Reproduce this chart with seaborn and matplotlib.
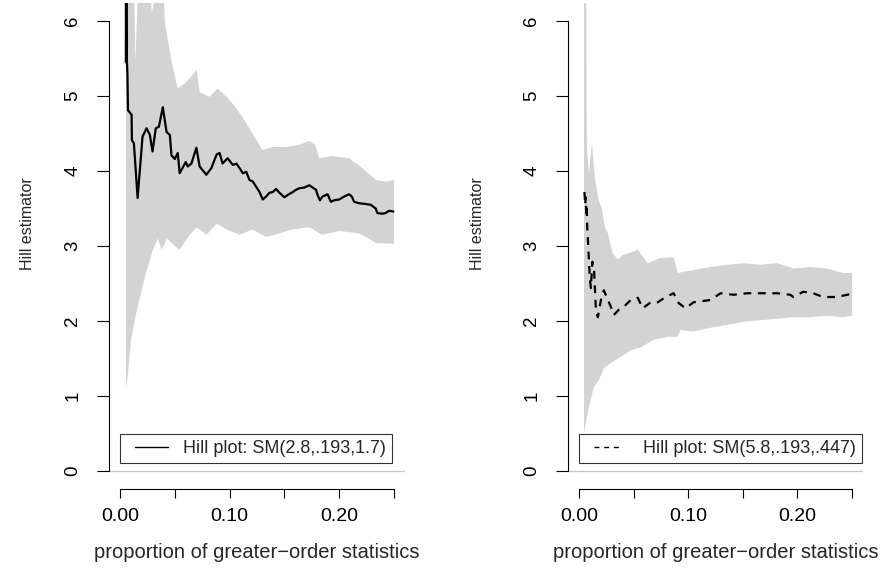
import numpy as np
import pandas as pd
import matplotlib
matplotlib.use("Agg")
import matplotlib.pyplot as plt
import seaborn as sns
from matplotlib.lines import Line2D
from matplotlib.legend_handler import HandlerLine2D

# ---- left panel: SM(2.8,.193,1.7) ----
left_prop = [0.0052, 0.0055, 0.0058, 0.0062, 0.0068, 0.0073, 0.0106, 0.0109, 0.0127, 0.0161,
             0.0206, 0.0243, 0.0273, 0.0297, 0.0327, 0.0355, 0.0391, 0.0425, 0.0455, 0.0470,
             0.0500, 0.0527, 0.0545, 0.0600, 0.0618, 0.0652, 0.0697, 0.0727, 0.0788, 0.0834,
             0.0882, 0.0909, 0.0936, 0.0982, 0.1030, 0.1061, 0.1091, 0.1121, 0.1152, 0.1182,
             0.1212, 0.1242, 0.1273, 0.1303, 0.1333, 0.1364, 0.1394, 0.1424, 0.1455, 0.1500,
             0.1530, 0.1576, 0.1606, 0.1636, 0.1682, 0.1727, 0.1758, 0.1788, 0.1803, 0.1824,
             0.1848, 0.1894, 0.1924, 0.1955, 0.2000, 0.2045, 0.2091, 0.2115, 0.2136, 0.2182,
             0.2242, 0.2288, 0.2333, 0.2348, 0.2394, 0.2424, 0.2455, 0.2494]
left_hill = [7.50, 5.45, 7.00, 5.50, 5.30, 4.81, 4.75, 4.41, 4.37, 3.64,
             4.46, 4.57, 4.48, 4.26, 4.57, 4.59, 4.85, 4.52, 4.48, 4.21,
             4.16, 4.24, 3.97, 4.12, 4.06, 4.10, 4.31, 4.06, 3.95, 4.04,
             4.22, 4.24, 4.10, 4.17, 4.08, 4.10, 4.04, 3.97, 3.99, 3.88,
             3.86, 3.79, 3.72, 3.62, 3.66, 3.71, 3.72, 3.76, 3.71, 3.65,
             3.68, 3.72, 3.75, 3.77, 3.78, 3.81, 3.78, 3.75, 3.68, 3.61,
             3.66, 3.69, 3.59, 3.61, 3.62, 3.66, 3.69, 3.66, 3.59, 3.57,
             3.56, 3.55, 3.50, 3.44, 3.43, 3.44, 3.47, 3.46]

left_up_prop = [0.0055, 0.0118, 0.0141, 0.0191, 0.0273, 0.0291, 0.0345, 0.0382, 0.0409, 0.0436,
                0.0473, 0.0527, 0.0591, 0.0645, 0.0700, 0.0727, 0.0818, 0.0891, 0.0973, 0.1027,
                0.1118, 0.1209, 0.1300, 0.1391, 0.1518, 0.1636, 0.1727, 0.1782, 0.1818, 0.1936,
                0.2091, 0.2209, 0.2336, 0.2427, 0.2500]
left_up = [7.50, 7.50, 5.45, 7.50, 6.50, 6.10, 6.60, 7.00, 6.00, 5.75,
           5.45, 5.10, 5.17, 5.25, 5.35, 5.05, 4.99, 5.10, 4.99, 4.90,
           4.72, 4.50, 4.28, 4.32, 4.32, 4.35, 4.40, 4.35, 4.17, 4.20,
           4.17, 4.04, 3.88, 3.86, 3.88]

left_lo_prop = [0.0055, 0.0059, 0.0082, 0.0100, 0.0118, 0.0155, 0.0200, 0.0227, 0.0273, 0.0300,
                0.0345, 0.0382, 0.0427, 0.0500, 0.0545, 0.0636, 0.0700, 0.0791, 0.0882, 0.0973,
                0.1091, 0.1209, 0.1336, 0.1455, 0.1573, 0.1727, 0.1845, 0.2000, 0.2182, 0.2336,
                0.2500]
left_lo = [1.30, 1.10, 1.44, 1.75, 1.88, 2.15, 2.41, 2.59, 2.81, 2.95,
           3.10, 2.95, 3.10, 3.00, 2.95, 3.15, 3.25, 3.15, 3.30, 3.22,
           3.15, 3.22, 3.12, 3.17, 3.22, 3.25, 3.15, 3.20, 3.17, 3.04,
           3.03]

# ---- right panel: SM(5.8,.193,.447) ----
right_prop = [0.0050, 0.0057, 0.0062, 0.0067, 0.0071, 0.0076, 0.0082, 0.0091, 0.0100, 0.0109,
              0.0123, 0.0137, 0.0155, 0.0173, 0.0201, 0.0228, 0.0265, 0.0292, 0.0319, 0.0365,
              0.0411, 0.0474, 0.0538, 0.0584, 0.0657, 0.0721, 0.0794, 0.0867, 0.0912, 0.0976,
              0.1049, 0.1204, 0.1296, 0.1414, 0.1542, 0.1661, 0.1816, 0.1934, 0.1962, 0.2053,
              0.2144, 0.2235, 0.2363, 0.2454, 0.2500]
right_hill = [3.72, 3.55, 3.65, 3.42, 3.50, 3.25, 3.08, 2.81, 2.57, 2.44,
              2.79, 2.72, 2.15, 2.05, 2.28, 2.41, 2.28, 2.19, 2.08, 2.15,
              2.19, 2.28, 2.31, 2.17, 2.25, 2.25, 2.32, 2.37, 2.24, 2.17,
              2.25, 2.28, 2.37, 2.35, 2.37, 2.37, 2.37, 2.35, 2.32, 2.39,
              2.37, 2.32, 2.32, 2.35, 2.36]

right_up_prop = [0.0046, 0.0064, 0.0073, 0.0091, 0.0119, 0.0146, 0.0182, 0.0210, 0.0237, 0.0265,
                 0.0310, 0.0356, 0.0401, 0.0447, 0.0538, 0.0630, 0.0748, 0.0867, 0.0903, 0.1049,
                 0.1204, 0.1360, 0.1505, 0.1661, 0.1816, 0.1962, 0.2117, 0.2272, 0.2418, 0.2500]
right_up = [7.00, 7.00, 4.30, 3.97, 4.37, 3.90, 3.60, 3.50, 3.25, 3.17,
            2.90, 2.82, 2.88, 2.90, 2.95, 2.77, 2.84, 2.85, 2.64, 2.68,
            2.72, 2.75, 2.77, 2.75, 2.77, 2.70, 2.72, 2.70, 2.64, 2.64]

right_lo_prop = [0.0046, 0.0091, 0.0137, 0.0182, 0.0228, 0.0292, 0.0383, 0.0474, 0.0566, 0.0684,
                 0.0812, 0.0903, 0.0930, 0.1049, 0.1204, 0.1360, 0.1505, 0.1661, 0.1816, 0.1962,
                 0.2117, 0.2272, 0.2418, 0.2500]
right_lo = [0.50, 0.85, 1.12, 1.21, 1.37, 1.44, 1.52, 1.61, 1.65, 1.75,
            1.79, 1.79, 1.88, 1.86, 1.91, 1.95, 1.99, 2.01, 2.03, 2.05,
            2.05, 2.07, 2.05, 2.07]

left_label = "Hill plot: SM(2.8,.193,1.7)"
right_label = "Hill plot: SM(5.8,.193,.447)"
x_ticks = [0.00, 0.05, 0.10, 0.15, 0.20, 0.25]
x_ticklabels = ["0.00", "", "0.10", "", "0.20", ""]
y_ticks = [0, 1, 2, 3, 4, 5, 6]

sns.set_theme(style="white")
plt.rcParams["font.family"] = ["Liberation Sans", "DejaVu Sans"]

fig = plt.figure(figsize=(8.92, 5.69), dpi=100)
ax1 = fig.add_axes([0.1222, 0.1406, 0.3318, 0.8541])
ax2 = fig.add_axes([0.6368, 0.1406, 0.3307, 0.8541])

# (axes, line x, line y, upper x, upper y, lower x, lower y, line style, legend style,
#  label, handle length, text pad)
panels = [
    (ax1, left_prop, left_hill, left_up_prop, left_up, left_lo_prop, left_lo, "-", "-",
     left_label, 2.32, 0.83),
    (ax2, right_prop, right_hill, right_up_prop, right_up, right_lo_prop, right_lo,
     (0, (3.5, 3)), (0, (3.5, 3.5)), right_label, 1.98, 1.22),
]

for ax, px, py, upx, upy, lox, loy, ls, leg_ls, lab, hlen, tpad in panels:
    # confidence band as a polygon: upper edge then lower edge back
    bx = np.concatenate([upx, lox[::-1]])
    by = np.concatenate([upy, loy[::-1]])
    ax.fill(bx, by, color="#d3d3d3", lw=0, zorder=1)
    ax.axhline(0, color="#c8c8c8", lw=0.9, zorder=1)

    df = pd.DataFrame({"prop": px, "hill": py})
    sns.lineplot(data=df, x="prop", y="hill", ax=ax, color="black", lw=1.6,
                 linestyle=ls, estimator=None, sort=False, zorder=3)

    ax.set_xlim(-0.01, 0.26)
    ax.set_ylim(-0.24, 6.24)
    ax.set_xticks(x_ticks)
    ax.set_xticklabels(x_ticklabels)
    ax.set_yticks(y_ticks)
    ax.set_yticklabels([str(t) for t in y_ticks], rotation=90, va="center")

    for s in ["top", "right"]:
        ax.spines[s].set_visible(False)
    ax.spines["left"].set_bounds(0, 6)
    ax.spines["bottom"].set_bounds(0, 0.25)
    for s in ["left", "bottom"]:
        ax.spines[s].set_color("black")
        ax.spines[s].set_linewidth(0.8)

    ax.tick_params(axis="x", direction="out", length=6.5, width=0.8, pad=7,
                   labelsize=14, colors="black", bottom=True)
    ax.tick_params(axis="y", direction="out", length=9, width=0.8, pad=11,
                   labelsize=13.5, colors="black", left=True)

    ax.set_xlabel("proportion of greater\u2212order statistics", fontsize=14.5, va="top")
    ax.xaxis.set_label_coords(0.5, -0.112)
    ax.set_ylabel("Hill estimator", fontsize=11.5)

    handle = Line2D([], [], color="black", lw=1, linestyle=leg_ls)
    leg = ax.legend([handle], [lab], loc="upper left", bbox_to_anchor=(0.0, 0.5),
                    bbox_transform=ax.transData, fontsize=13, frameon=True,
                    fancybox=False, borderpad=0.35, handlelength=hlen,
                    handletextpad=tpad, borderaxespad=0,
                    handler_map={handle: HandlerLine2D(xpad=0.48)})
    leg.get_frame().set_edgecolor("black")
    leg.get_frame().set_linewidth(0.8)
    leg.set_zorder(5)

ax1.yaxis.set_label_coords(-0.25, 0.546)
ax2.yaxis.set_label_coords(-0.28, 0.546)

fig.savefig("out.png", dpi=100, facecolor="white")
